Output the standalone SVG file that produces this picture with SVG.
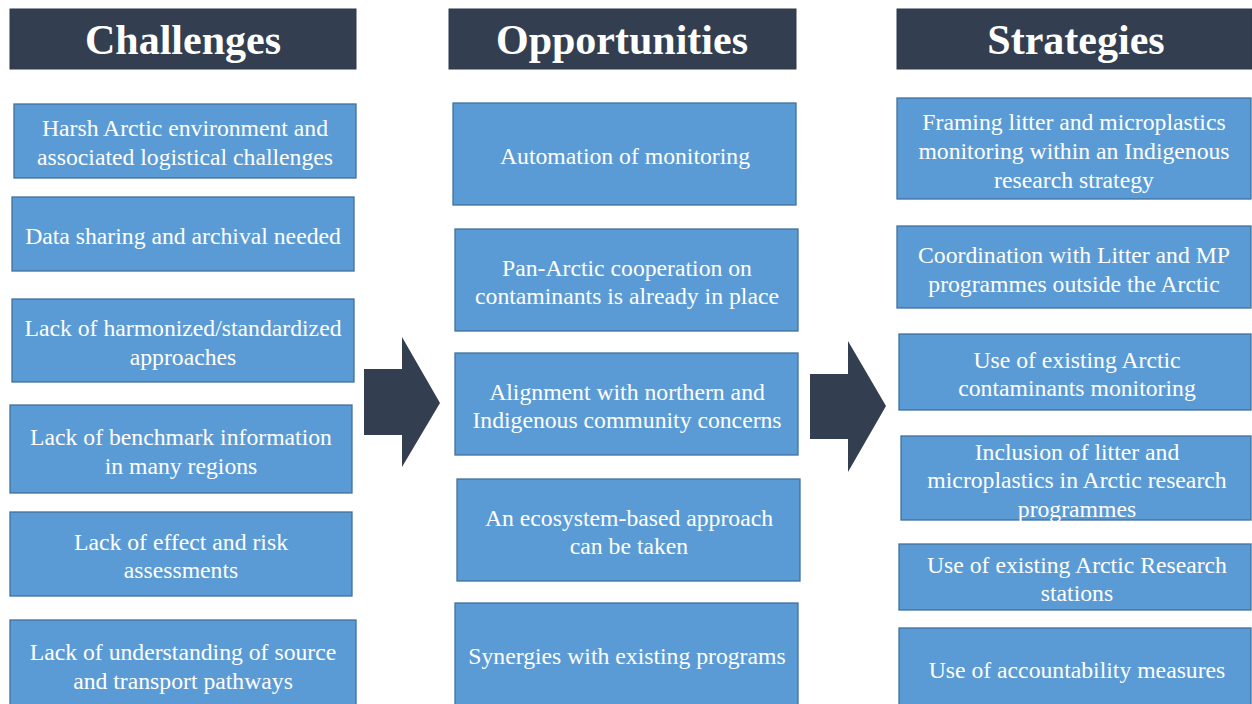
<svg xmlns="http://www.w3.org/2000/svg" width="1252" height="704" viewBox="0 0 1252 704">
<style>
.hdr{fill:#333F50;stroke:#2F3A4A;stroke-width:1}
.htx{font-family:"Liberation Serif","Times New Roman",serif;font-weight:bold;font-size:42px;fill:#fff;text-anchor:middle}
.box{fill:#5B9BD5;stroke:#41719C;stroke-width:1.3}
.tx{font-family:"Liberation Serif","Times New Roman",serif;font-size:23.7px;fill:#fff;text-anchor:middle}
.arr{fill:#333F50}
</style>
<rect width="1252" height="704" fill="#fff"/>
<g id="h1"><rect class="hdr" x="10" y="9" width="346" height="60"/><text class="htx" x="183" y="54">Challenges</text></g>
<g id="h2"><rect class="hdr" x="449" y="9" width="347" height="60"/><text class="htx" x="622" y="54">Opportunities</text></g>
<g id="h3"><rect class="hdr" x="897" y="9" width="355" height="60"/><text class="htx" x="1076" y="54">Strategies</text></g>

<g id="c1"><rect class="box" x="14" y="104" width="342" height="74"/><text class="tx" x="185" y="136">Harsh Arctic environment and</text><text class="tx" x="185" y="165">associated logistical challenges</text></g>
<g id="c2"><rect class="box" x="12" y="197" width="342" height="74"/><text class="tx" x="183" y="244">Data sharing and archival needed</text></g>
<g id="c3"><rect class="box" x="12" y="299" width="342" height="83"/><text class="tx" x="183" y="336">Lack of harmonized/standardized</text><text class="tx" x="183" y="365">approaches</text></g>
<g id="c4"><rect class="box" x="10" y="405" width="342" height="88"/><text class="tx" x="181" y="445">Lack of benchmark information</text><text class="tx" x="181" y="474">in many regions</text></g>
<g id="c5"><rect class="box" x="10" y="512" width="342" height="84"/><text class="tx" x="181" y="550">Lack of effect and risk</text><text class="tx" x="181" y="578">assessments</text></g>
<g id="c6"><rect class="box" x="10" y="620" width="346" height="86"/><text class="tx" x="183" y="660">Lack of understanding of source</text><text class="tx" x="183" y="689">and transport pathways</text></g>

<g id="o1"><rect class="box" x="453" y="103" width="343" height="102"/><text class="tx" x="625" y="164">Automation of monitoring</text></g>
<g id="o2"><rect class="box" x="455" y="229" width="343" height="102"/><text class="tx" x="627" y="276">Pan-Arctic cooperation on</text><text class="tx" x="627" y="304">contaminants is already in place</text></g>
<g id="o3"><rect class="box" x="455" y="353" width="343" height="102"/><text class="tx" x="627" y="400">Alignment with northern and</text><text class="tx" x="627" y="428">Indigenous community concerns</text></g>
<g id="o4"><rect class="box" x="457" y="479" width="343" height="102"/><text class="tx" x="629" y="526">An ecosystem-based approach</text><text class="tx" x="629" y="554">can be taken</text></g>
<g id="o5"><rect class="box" x="455" y="603" width="343" height="103"/><text class="tx" x="627" y="664">Synergies with existing programs</text></g>

<g id="s1"><rect class="box" x="897" y="98" width="354" height="101"/><text class="tx" x="1074" y="130">Framing litter and microplastics</text><text class="tx" x="1074" y="159">monitoring within an Indigenous</text><text class="tx" x="1074" y="188">research strategy</text></g>
<g id="s2"><rect class="box" x="897" y="226" width="354" height="82"/><text class="tx" x="1074" y="263">Coordination with Litter and MP</text><text class="tx" x="1074" y="292">programmes outside the Arctic</text></g>
<g id="s3"><rect class="box" x="899" y="334" width="352" height="76"/><text class="tx" x="1077" y="368">Use of existing Arctic</text><text class="tx" x="1077" y="396">contaminants monitoring</text></g>
<g id="s4"><rect class="box" x="901" y="436" width="350" height="84"/><text class="tx" x="1077" y="460">Inclusion of litter and</text><text class="tx" x="1077" y="488">microplastics in Arctic research</text><text class="tx" x="1077" y="517">programmes</text></g>
<g id="s5"><rect class="box" x="899" y="544" width="352" height="66"/><text class="tx" x="1077" y="573">Use of existing Arctic Research</text><text class="tx" x="1077" y="601">stations</text></g>
<g id="s6"><rect class="box" x="899" y="628" width="352" height="78"/><text class="tx" x="1077" y="678">Use of accountability measures</text></g>

<g id="connectors">
<polygon class="arr" points="364,369 402,369 402,337 440,403 402,467 402,435 364,435"/>
<polygon class="arr" points="810,374 848,374 848,341 886,406 848,472 848,439 810,439"/>
</g>
</svg>
